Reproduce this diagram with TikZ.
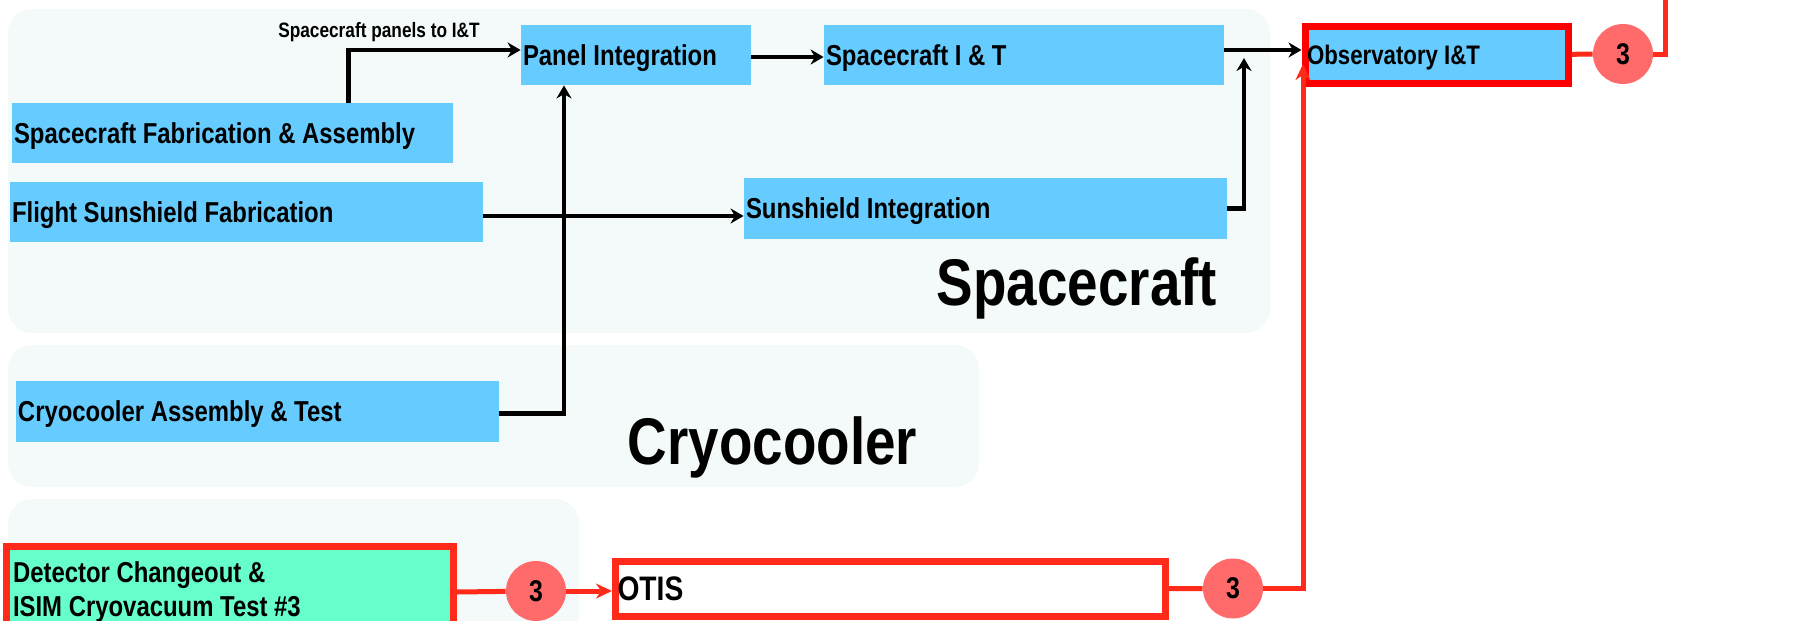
\documentclass[tikz,border=0pt]{standalone}
\usepackage{fontspec}
\setmainfont{Liberation Sans}[FakeStretch=0.83]
\usepackage{xcolor}
\usetikzlibrary{arrows.meta}

\definecolor{skyfill}{HTML}{66CCFF}
\definecolor{mintfill}{HTML}{66FFCC}
\definecolor{grpfill}{HTML}{F4FAFA}
\definecolor{pathred}{HTML}{FF2A1A}
\definecolor{obsred}{HTML}{FF0000}
\definecolor{dotfill}{HTML}{FF6B6B}
\newcommand\narrowsp{\spaceskip=0.23em\relax}

\begin{document}
\begin{tikzpicture}[x=0.5pt,y=-0.5pt,
  grp/.style={fill=grpfill, rounded corners=12pt},
  box/.style={fill=skyfill, inner xsep=1pt, inner ysep=0pt, minimum height=30pt, align=flush left, text height=10.3pt, text depth=0pt, font=\fontsize{14.4}{17}\selectfont\bfseries\narrowsp},
  dot/.style={circle, fill=dotfill, minimum size=30pt, inner sep=0pt, font=\fontsize{15}{18}\selectfont\bfseries},
  arr/.style={-{Stealth[length=6.5pt,width=7.5pt]}, line width=2.4pt},
  rline/.style={line width=2.5pt, draw=pathred},
  rarr/.style={rline, -{Stealth[length=8pt,width=7.5pt]}},
  grplabel/.style={font=\fontsize{33}{36}\selectfont\bfseries, anchor=base}
]
\useasboundingbox (0,0) rectangle (1806,621);
% group panels
\fill[grp] (8,9) rectangle (1270,333);
\fill[grp] (8,345) rectangle (979,487);
\fill[grp] (8,499) rectangle (579,660);
\node[grplabel] (sclbl) at (1077,305) {Spacecraft};
\node[grplabel] (cclbl) at (772.5,464) {Cryocooler};
% spacecraft flow
\node[box, text width=113pt] (panel) at (636,55) {Panel Integration};
\node[box, text width=198pt] (scit) at (1024,55) {Spacecraft I \& T};
\node[box, text width=218.5pt] (scfab) at (232.5,133) {Spacecraft Fabrication \& Assembly};
\node[box, text width=234.5pt] (fsf) at (246.5,212) {Flight Sunshield Fabrication};
\node[box, text width=239.5pt, minimum height=30.5pt] (ssi) at (985.5,208.5) {Sunshield Integration};
\node[box, text width=239.5pt, minimum height=30.5pt] (cryo) at (257.5,411.5) {Cryocooler Assembly \& Test};
\node[box, text width=129.5pt, minimum height=28.5pt, draw=obsred, line width=3.5pt, text height=9.3pt, font=\fontsize{13.4}{15}\selectfont\bfseries\narrowsp] (obs) at (1436.5,55) {Observatory I\&T};
\node[font=\fontsize{10.4}{12}\selectfont\bfseries\narrowsp, anchor=base] (panlbl) at (379,37) {Spacecraft panels to I\&T};
% OTIS flow
\node[fill=mintfill, draw=pathred, line width=3.5pt, inner xsep=3.25pt, text width=217pt, minimum height=46pt, align=flush left, font=\fontsize{14.4}{17}\selectfont\bfseries\narrowsp] (det) at (230,592) {Detector Changeout \&\\ISIM Cryovacuum Test \#3};
\node[box, fill=white, draw=pathred, line width=3.5pt, text width=273pt, minimum height=27.75pt, text height=12.2pt, font=\fontsize{17}{20}\selectfont\bfseries] (otis) at (890.5,588.75) {OTIS};
\node[dot] (c2) at (536,591) {3};
\node[dot] (c3) at (1233,588.5) {3};
\node[dot] (c1) at (1623,54) {3};
\coordinate (ssup) at (1244,58);
\coordinate (obsin) at (1303,64);
\coordinate (topout) at (1665,-10);
% black connectors
\draw[arr] ([xshift=58pt]scfab.north) |- ([yshift=2.5pt]panel.west);
\draw[arr] ([yshift=-1pt]panel.east) -- ([yshift=-1pt]scit.west);
\draw[arr] ([yshift=2.5pt]scit.east) -- ([yshift=2.5pt]scit.east -| obs.west);
\draw[arr] (ssi.east) -| (ssup);
\draw[arr] ([yshift=-2pt]fsf.east) -- ([yshift=-2pt]fsf.east -| ssi.west);
\draw[arr] ([yshift=-1pt]cryo.east) -| ([xshift=-36pt]panel.south);
% red connectors
\draw[rline] (det.east) -- (c2);
\draw[rarr] (c2) -- (c2 -| otis.west);
\draw[rline] (otis) -- (c3);
\draw[rarr] (c3) -| (obsin);
\draw[rline] (obs) -- (c1);
\draw[rline] (c1) -| (topout);
\end{tikzpicture}
\end{document}
